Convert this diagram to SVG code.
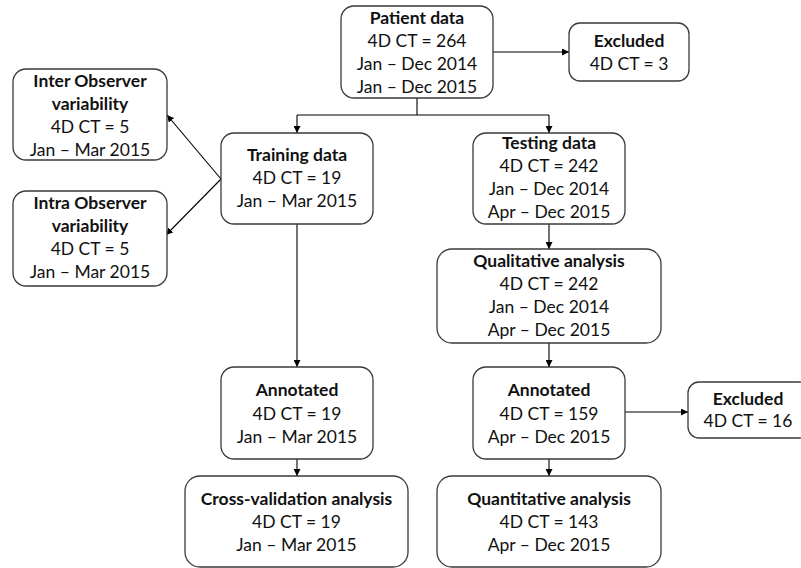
<svg xmlns="http://www.w3.org/2000/svg" width="801" height="568" viewBox="0 0 801 568">
<defs>
<marker id="ah" viewBox="0 0 8 8" refX="8" refY="4" markerWidth="7" markerHeight="7" markerUnits="userSpaceOnUse" orient="auto">
<path d="M0,0 L8,4 L0,8 z" fill="#000"/>
</marker>
<style>
.box{fill:#fff;stroke:#3a3a3a;stroke-width:1.3}
text{font-family:Lato,"Liberation Sans",sans-serif;font-size:17.5px;fill:#111;text-anchor:middle}
.b{font-weight:bold}
.c{fill:none;stroke:#000;stroke-width:1.1}
.a{marker-end:url(#ah)}
</style>
</defs>
<rect width="801" height="568" fill="#fff"/>
<g id="connectors">
<path class="c" d="M417,98 V115 M297,115 H549"/>
<path class="c a" d="M297,115 V133"/>
<path class="c a" d="M549,115 V133"/>
<path class="c a" d="M493,52 H569"/>
<path class="c a" d="M221,179 L167,115"/>
<path class="c a" d="M221,179 L166,235"/>
<path class="c a" d="M297,224 V367"/>
<path class="c a" d="M549,224 V249"/>
<path class="c a" d="M549,343 V367"/>
<path class="c a" d="M297,459 V476"/>
<path class="c a" d="M549,459 V476"/>
<path class="c a" d="M625,412 H688"/>
</g>
<g id="patient">
<rect class="box" x="341" y="6" width="152" height="92" rx="13"/>
<text x="417" y="24" class="b">Patient data</text>
<text x="417" y="47">4D CT = 264</text>
<text x="417" y="70">Jan – Dec 2014</text>
<text x="417" y="93">Jan – Dec 2015</text>
</g>
<g id="excluded1">
<rect class="box" x="569" y="23" width="120" height="58" rx="11"/>
<text x="629" y="47" class="b">Excluded</text>
<text x="629" y="70">4D CT = 3</text>
</g>
<g id="inter">
<rect class="box" x="13" y="69" width="154" height="91" rx="13"/>
<text x="90" y="87" class="b">Inter Observer</text>
<text x="90" y="110" class="b">variability</text>
<text x="90" y="133">4D CT = 5</text>
<text x="90" y="156">Jan – Mar 2015</text>
</g>
<g id="intra">
<rect class="box" x="13" y="191" width="154" height="95" rx="13"/>
<text x="90" y="209" class="b">Intra Observer</text>
<text x="90" y="232" class="b">variability</text>
<text x="90" y="255">4D CT = 5</text>
<text x="90" y="278">Jan – Mar 2015</text>
</g>
<g id="training">
<rect class="box" x="221" y="133" width="152" height="91" rx="13"/>
<text x="297" y="161" class="b">Training data</text>
<text x="297" y="184">4D CT = 19</text>
<text x="297" y="207">Jan – Mar 2015</text>
</g>
<g id="testing">
<rect class="box" x="473" y="133" width="152" height="91" rx="13"/>
<text x="549" y="149" class="b">Testing data</text>
<text x="549" y="172">4D CT = 242</text>
<text x="549" y="195">Jan – Dec 2014</text>
<text x="549" y="218">Apr – Dec 2015</text>
</g>
<g id="qualitative">
<rect class="box" x="437" y="249" width="224" height="94" rx="15"/>
<text x="549" y="267" class="b">Qualitative analysis</text>
<text x="549" y="290">4D CT = 242</text>
<text x="549" y="313">Jan – Dec 2014</text>
<text x="549" y="336">Apr – Dec 2015</text>
</g>
<g id="annotated-left">
<rect class="box" x="221" y="367" width="152" height="92" rx="13"/>
<text x="297" y="396" class="b">Annotated</text>
<text x="297" y="420">4D CT = 19</text>
<text x="297" y="443">Jan – Mar 2015</text>
</g>
<g id="annotated-right">
<rect class="box" x="473" y="367" width="152" height="92" rx="13"/>
<text x="549" y="396" class="b">Annotated</text>
<text x="549" y="420">4D CT = 159</text>
<text x="549" y="443">Apr – Dec 2015</text>
</g>
<g id="excluded2">
<rect class="box" x="688" y="382" width="122" height="56" rx="11"/>
<text x="748" y="405" class="b">Excluded</text>
<text x="748" y="427">4D CT = 16</text>
</g>
<g id="crossval">
<rect class="box" x="185" y="476" width="223" height="91" rx="15"/>
<text x="296.5" y="505" class="b">Cross-validation analysis</text>
<text x="296.5" y="528">4D CT = 19</text>
<text x="296.5" y="551">Jan – Mar 2015</text>
</g>
<g id="quantitative">
<rect class="box" x="437" y="476" width="224" height="91" rx="15"/>
<text x="549" y="505" class="b">Quantitative analysis</text>
<text x="549" y="528">4D CT = 143</text>
<text x="549" y="551">Apr – Dec 2015</text>
</g>
</svg>
